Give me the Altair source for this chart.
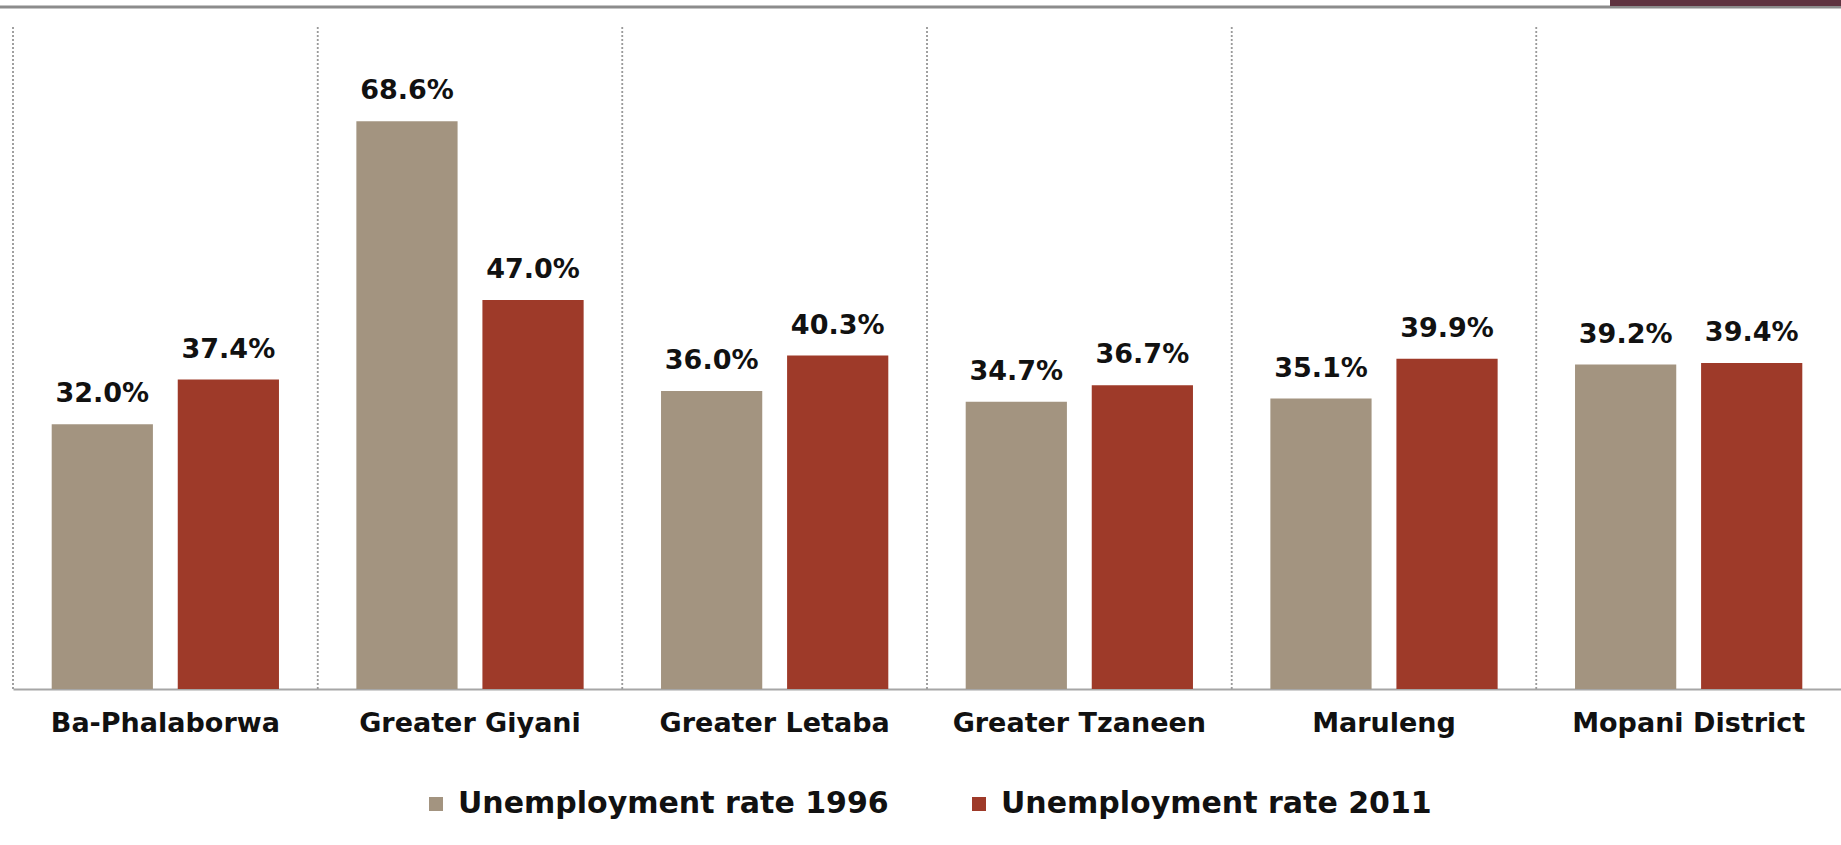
import altair as alt
import pandas as pd

categories = ["Ba-Phalaborwa", "Greater Giyani", "Greater Letaba", "Greater Tzaneen", "Maruleng", "Mopani District"]
rate_1996 = [32.0, 68.6, 36.0, 34.7, 35.1, 39.2]
rate_2011 = [37.4, 47.0, 40.3, 36.7, 39.9, 39.4]
series = ["Unemployment rate 1996", "Unemployment rate 2011"]
colors = ["#A39480", "#9E3A29"]

rows = []
for c, a, b in zip(categories, rate_1996, rate_2011):
    rows.append({"cat": c, "series": series[0], "value": a})
    rows.append({"cat": c, "series": series[1], "value": b})
df = pd.DataFrame(rows)
df["label"] = df["value"].map(lambda v: f"{v:.1f}%")

W, H = 1828, 662
FONT = "DejaVu Sans"

xaxis = alt.Axis(labelAngle=0, labelFont=FONT, labelFontSize=27, labelFontWeight="bold",
                 labelColor="#111111", ticks=False, tickSize=0, labelPadding=21, labelLimit=400,
                 domainColor="#a6a6a6", domainWidth=2, grid=False)
xscale = alt.Scale(paddingInner=0, paddingOuter=0)

x = alt.X("cat:N", sort=categories, title=None, scale=xscale, axis=xaxis)
xoff = alt.XOffset("series:N", sort=series, scale=alt.Scale(paddingInner=0.197, paddingOuter=0.307))
y = alt.Y("value:Q", scale=alt.Scale(domain=[0, 80], nice=False, zero=True), axis=None)

base = alt.Chart(df)

seps = base.mark_rule(color="#9a9a9a", strokeWidth=1.5, strokeDash=[2, 2]).encode(
    x=alt.X("cat:N", sort=categories, title=None, scale=xscale, axis=xaxis, bandPosition=0)
)

bars = base.mark_bar().encode(
    x=x, xOffset=xoff, y=y,
    color=alt.Color("series:N", sort=series,
                    scale=alt.Scale(domain=series, range=colors),
                    legend=alt.Legend(title=None, orient="none", legendX=408, legendY=762,
                                      direction="horizontal", symbolType="square", symbolSize=196,
                                      symbolStrokeWidth=0, labelFont=FONT, labelFontSize=30,
                                      labelFontWeight="bold", labelColor="#111111",
                                      labelOffset=7, columnPadding=75, labelLimit=600)),
)

labels = base.mark_text(dy=-22, baseline="alphabetic", fontSize=27, fontWeight="bold",
                        font=FONT, color="#111111").encode(
    x=x, xOffset=xoff, y=y, text="label:N"
)

deco = pd.DataFrame({"d": [0]})
topline = alt.Chart(deco).mark_rule(color="#8c8c8c", strokeWidth=3).encode(
    x=alt.value(-13), x2=alt.value(W + 13), y=alt.value(-20)
)
corner = alt.Chart(deco).mark_rect(color="#5F3340").encode(
    x=alt.value(1597), x2=alt.value(W + 13), y=alt.value(-27), y2=alt.value(-21)
)

chart = alt.layer(seps, bars, labels, topline, corner).properties(
    width=W, height=H,
    autosize=alt.AutoSizeParams(type="none"),
    padding={"left": 13, "top": 27, "right": 0, "bottom": 156},
    background="white",
).configure_view(stroke=None)

chart.save("out.html", embed_options={"renderer": "svg", "actions": False})
